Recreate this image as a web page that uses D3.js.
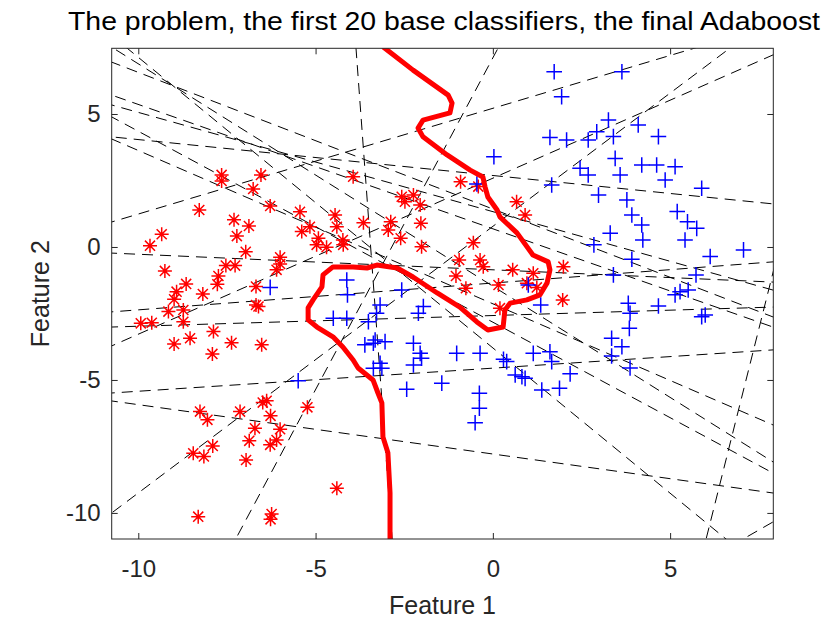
<!DOCTYPE html>
<html>
<head>
<meta charset="utf-8">
<script src="https://cdn.jsdelivr.net/npm/d3@7"></script>
<style>
  body { margin: 0; background: #fff; }
  text { font-family: "Liberation Sans", Arial, sans-serif; fill: #262626; }
</style>
</head>
<body>
<div class="container"></div>
<script>
////////////////////////////////////////////////////////////////
// DATA
////////////////////////////////////////////////////////////////
var titleText = "The problem, the first 20 base classifiers, the final Adaboost";
var xTicks = [-10, -5, 0, 5];
var yTicks = [-10, -5, 0, 5];

// class 1 (red stars)
var redX = [-7.65,-7.65,-6.54,-6.76,-6.28,-3.94,-8.28,-5.44,-4.45,-3.65,-9.34,-9.67,-7.30,-6.88,-7.22,-5.16,-5.39,-4.92,-4.40,-4.97,
  -4.69,-4.23,-4.22,-6.97,-6.00,-6.00,-6.10,-9.25,-7.53,-7.27,-7.74,-7.77,-8.65,-8.92,-8.18,-6.68,-6.68,-6.61,-8.99,-8.73,
  -9.15,-8.73,-9.93,-9.62,-7.88,-8.54,-8.99,-7.37,-6.52,-7.91,0.67,0.91,-2.48,-2.05,-2.88,-2.03,-2.95,-2.60,-2.01,-0.55,
  -0.95,-0.36,-0.27,-1.04,-0.76,0.16,0.56,1.14,0.96,1.24,1.99,1.97,0.20,-0.91,-0.41,-2.57,-2.24,-8.26,-8.05,-7.13,
  -6.49,-6.38,-6.27,-6.71,-6.00,-6.87,-6.10,-6.28,-7.90,-8.45,-8.15,-6.96,-5.23,-4.40,-8.31,-6.24,-6.27];
var redY = [2.71,2.48,2.71,2.18,1.54,2.64,1.39,1.32,1.20,0.91,0.48,0.05,1.02,0.79,0.41,0.76,0.58,0.33,0.76,0.08,
  -0.01,0.26,0.08,-0.18,-0.39,-0.64,-0.86,-0.90,-0.70,-0.70,-1.09,-1.40,-1.39,-1.68,-1.77,-1.49,-2.18,-2.24,-1.97,-2.37,
  -2.43,-2.81,-2.87,-2.85,-3.18,-3.43,-3.65,-3.60,-3.68,-4.02,1.70,1.20,1.70,1.58,0.95,0.89,0.64,0.33,0.01,0.16,
  -0.49,-0.49,-0.74,-1.09,-1.55,-1.43,-0.86,-0.99,-1.36,-1.52,-0.74,-1.99,-2.30,2.45,2.27,1.89,1.95,-6.19,-6.50,-6.19,
  -5.85,-5.78,-6.35,-6.82,-6.85,-7.29,-7.26,-7.44,-7.48,-7.76,-7.88,-8.01,-6.03,-9.07,-10.14,-10.04,-10.24];

// class 2 (blue crosses)
var blueX = [1.73,3.64,1.94,3.26,4.10,1.61,2.08,2.69,2.93,3.40,0.03,3.45,2.46,2.69,3.59,4.20,1.66,2.98,3.78,-0.45,
  4.67,4.62,5.14,4.86,5.89,3.92,4.20,3.31,4.23,5.20,5.49,5.75,5.42,7.07,6.13,3.92,3.40,5.73,5.14,5.28,
  5.51,3.82,3.87,4.67,5.89,5.99,3.85,3.35,3.64,3.35,3.87,2.85,1.00,1.35,-2.57,-1.96,-2.10,-3.18,-3.28,-3.32,
  -3.04,-2.24,-2.05,-2.01,-2.24,-1.02,-0.36,0.30,1.14,1.61,1.66,-3.18,-6.28,-4.12,-4.10,-4.50,-4.12,-3.51,-3.61,-3.37,
  -3.37,-3.13,-2.43,-1.44,-0.38,-0.38,-0.50,0.39,0.63,0.91,0.82,1.38,1.88,2.18,-5.49];
var blueY = [6.59,6.59,5.65,4.77,4.59,4.12,4.02,4.02,4.33,4.15,3.39,3.33,2.96,2.71,2.71,3.08,2.33,1.95,1.77,2.37,
  4.15,3.08,3.02,2.52,2.21,1.20,0.83,0.52,0.26,1.33,0.95,0.70,0.26,-0.11,-0.36,-0.46,-1.05,-1.05,-1.80,-1.68,
  -1.62,-2.12,-2.49,-2.22,-2.62,-2.56,-3.06,-3.43,-3.75,-4.10,-4.55,0.08,-1.43,-2.18,-1.62,-2.24,-2.49,-2.18,-2.49,-3.50,
  -3.56,-3.62,-4.00,-4.18,-4.44,-4.00,-4.00,-4.22,-4.00,-3.94,-4.31,-4.37,-1.52,-1.24,-1.80,-2.68,-2.68,-2.81,-3.68,-3.62,
  -4.56,-4.56,-5.35,-5.12,-5.50,-6.06,-6.61,-4.31,-4.81,-4.94,-4.88,-5.38,-5.31,-4.77,-5.03];

// 20 weak classifiers, each a line through (x1,y1) and (x2,y2)
var clfX1 = [-3.86, 0.12, 7.87, 7.06,-10.75,-10.75,-10.75,-10.75,-10.75,-10.71,-10.75,-10.32,-10.75,-10.75,-10.75,-10.75,-10.75,-10.75,-10.75,-10.75];
var clfY1 = [ 7.48, 7.41,-1.13,-10.98,-10.0,-3.72, 0.94,-5.79,-5.49, 7.48, 4.06, 7.48, 6.95, 5.71, 4.89,-2.44,-3.01,-0.23, 4.14, 5.34];
var clfX2 = [-2.84,-7.22, 6.03, 7.90, 6.69, 7.90, 5.70, 7.90, 7.90, 7.90, 7.90, 6.32, 7.90, 7.90, 7.90, 7.90, 7.90, 7.90, 7.90, 7.90];
var clfY2 = [-10.98,-10.90,-10.90,-10.34, 7.48, 7.22, 7.48,-9.25,-3.87,-8.08,-6.69,-10.70,-2.63,-3.01,-8.50,-0.56,-2.26,-1.32, 1.62,-1.62];

// final Adaboost decision boundary
var bndX = [-3.10,-2.25,-1.26,-1.15,-1.21,-1.97,-2.11,-1.97,-1.29,-0.64,-0.28,-0.22,-0.14,0.12,0.20,0.68,1.13,1.56,1.61,1.53,
  1.33,0.96,0.49,0.34,0.29,-0.14,-0.45,-0.93,-1.57,-2.25,-2.70,-3.27,-3.55,-3.94,-4.51,-4.79,-4.82,-5.07,-5.21,-5.21,
  -4.96,-4.51,-4.23,-3.94,-3.80,-3.38,-3.24,-3.13,-3.10,-2.96,-2.90,-2.90];
var bndY = [7.53,6.65,5.71,5.41,5.04,4.77,4.47,4.14,3.46,2.89,2.63,2.26,1.88,1.39,1.13,0.53,-0.30,-0.56,-0.86,-1.35,
  -1.80,-1.99,-2.11,-2.37,-3.01,-3.12,-2.82,-2.26,-1.73,-1.13,-0.79,-0.68,-0.79,-0.75,-0.75,-1.05,-1.50,-1.99,-2.29,-2.74,
  -3.01,-3.38,-3.76,-4.25,-4.55,-5.00,-5.49,-5.86,-7.14,-7.74,-9.25,-11.2];

////////////////////////////////////////////////////////////////
// STAGE
////////////////////////////////////////////////////////////////
var W = 831, H = 619;
var pLeft = 111.7, pRight = 773.3, pTop = 48.3, pBottom = 539;

var svg = d3.select(".container").append("svg")
  .attr("width", W).attr("height", H);

var x = d3.scaleLinear().domain([-10.75, 7.91]).range([pLeft, pRight]);
var y = d3.scaleLinear().domain([-10.98, 7.47]).range([pBottom, pTop]);

svg.append("defs").append("clipPath").attr("id", "plotclip")
  .append("rect").attr("x", pLeft).attr("y", pTop)
  .attr("width", pRight - pLeft).attr("height", pBottom - pTop);

var plot = svg.append("g").attr("clip-path", "url(#plotclip)");

////////////////////////////////////////////////////////////////
// WEAK CLASSIFIERS (dashed lines, extended over the whole axes)
////////////////////////////////////////////////////////////////
var clfs = d3.range(clfX1.length).map(function(i) {
  var dx = clfX2[i] - clfX1[i], dy = clfY2[i] - clfY1[i];
  return [[clfX1[i] - 3 * dx, clfY1[i] - 3 * dy], [clfX2[i] + 3 * dx, clfY2[i] + 3 * dy]];
});
plot.selectAll("line.clf").data(clfs).enter().append("line")
  .attr("class", "clf")
  .attr("x1", function(d) { return x(d[0][0]); })
  .attr("y1", function(d) { return y(d[0][1]); })
  .attr("x2", function(d) { return x(d[1][0]); })
  .attr("y2", function(d) { return y(d[1][1]); })
  .attr("stroke", "#000").attr("stroke-width", 1)
  .attr("stroke-dasharray", "11,7");

////////////////////////////////////////////////////////////////
// POINTS
////////////////////////////////////////////////////////////////
var reds = redX.map(function(v, i) { return [v, redY[i]]; });
var blues = blueX.map(function(v, i) { return [v, blueY[i]]; });

var rs = 7, bs = 7.8;
var starPath = "M" + (-rs) + ",0H" + rs + "M0," + (-rs) + "V" + rs +
  "M" + (-rs * 0.72) + "," + (-rs * 0.72) + "L" + (rs * 0.72) + "," + (rs * 0.72) +
  "M" + (-rs * 0.72) + "," + (rs * 0.72) + "L" + (rs * 0.72) + "," + (-rs * 0.72);
var plusPath = "M" + (-bs) + ",0H" + bs + "M0," + (-bs) + "V" + bs;

plot.selectAll("path.red").data(reds).enter().append("path")
  .attr("class", "red")
  .attr("transform", function(d) { return "translate(" + x(d[0]) + "," + y(d[1]) + ")"; })
  .attr("d", starPath)
  .attr("stroke", "#ff0000").attr("stroke-width", 1.5).attr("fill", "none");

plot.selectAll("path.blue").data(blues).enter().append("path")
  .attr("class", "blue")
  .attr("transform", function(d) { return "translate(" + x(d[0]) + "," + y(d[1]) + ")"; })
  .attr("d", plusPath)
  .attr("stroke", "#0000ff").attr("stroke-width", 1.5).attr("fill", "none");

////////////////////////////////////////////////////////////////
// FINAL BOUNDARY
////////////////////////////////////////////////////////////////
var bnd = bndX.map(function(v, i) { return [v, bndY[i]]; });
plot.append("path").datum(bnd)
  .attr("d", d3.line().x(function(d) { return x(d[0]); }).y(function(d) { return y(d[1]); }))
  .attr("fill", "none").attr("stroke", "#ff0000").attr("stroke-width", 5)
  .attr("stroke-linejoin", "round");

////////////////////////////////////////////////////////////////
// AXES (box with ticks on all sides)
////////////////////////////////////////////////////////////////
var axCol = "#262626";
var fmt = function(d) { return String(d); };
function styleAxis(g) {
  g.select(".domain").remove();
  g.selectAll(".tick line").attr("stroke", axCol);
  g.selectAll(".tick text").style("font-size", "24px").attr("fill", axCol);
}
svg.append("g").attr("transform", "translate(0," + pBottom + ")")
  .call(d3.axisBottom(x).tickValues(xTicks).tickSizeInner(-6).tickSizeOuter(0).tickPadding(21)
    .tickFormat(fmt))
  .call(styleAxis);
svg.append("g").attr("transform", "translate(0," + pTop + ")")
  .call(d3.axisTop(x).tickValues(xTicks).tickSizeInner(-6).tickSizeOuter(0).tickFormat(""))
  .call(styleAxis);
svg.append("g").attr("transform", "translate(" + pLeft + ",0)")
  .call(d3.axisLeft(y).tickValues(yTicks).tickSizeInner(-6).tickSizeOuter(0).tickPadding(11)
    .tickFormat(fmt))
  .call(styleAxis);
svg.append("g").attr("transform", "translate(" + pRight + ",0)")
  .call(d3.axisRight(y).tickValues(yTicks).tickSizeInner(-6).tickSizeOuter(0).tickFormat(""))
  .call(styleAxis);

svg.append("rect").attr("x", pLeft).attr("y", pTop)
  .attr("width", pRight - pLeft).attr("height", pBottom - pTop)
  .attr("fill", "none").attr("stroke", axCol).attr("stroke-width", 1);

////////////////////////////////////////////////////////////////
// LABELS
////////////////////////////////////////////////////////////////
svg.append("text").attr("x", 444).attr("y", 30)
  .attr("text-anchor", "middle").style("font-size", "25px").style("fill", "#000")
  .attr("textLength", 752).attr("lengthAdjust", "spacingAndGlyphs")
  .text(titleText);
svg.append("text").attr("x", (pLeft + pRight) / 2).attr("y", 614)
  .attr("text-anchor", "middle").style("font-size", "25px")
  .text("Feature 1");
svg.append("text").attr("transform", "translate(49," + ((pTop + pBottom) / 2) + ") rotate(-90)")
  .attr("text-anchor", "middle").style("font-size", "25px")
  .text("Feature 2");
</script>
</body>
</html>
